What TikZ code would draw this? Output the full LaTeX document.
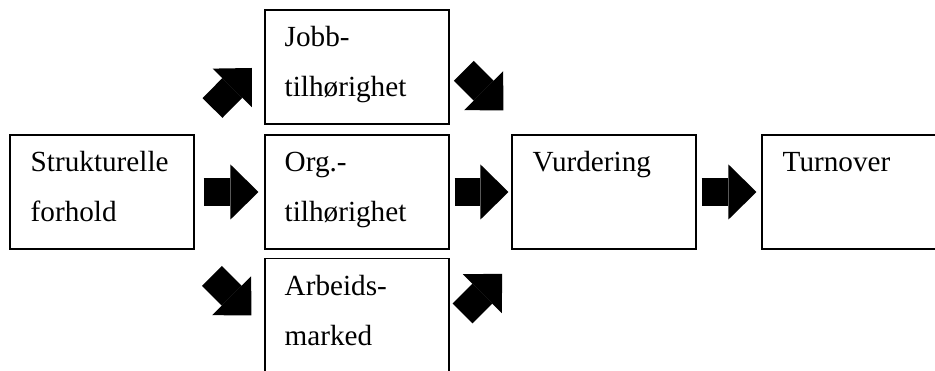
\documentclass[tikz,border=0pt]{standalone}
\usepackage{fontspec}
\setmainfont{Liberation Serif}
\usetikzlibrary{arrows.meta,calc}

\tikzset{
    box/.style={draw, line width=0.8pt, minimum width=138pt, minimum height=85.5pt, inner sep=0pt},
    boxtext/.style={anchor=north west, inner sep=0pt, align=left, font=\fontsize{21.9}{37.5}\selectfont},
    bigarrow/.style={line width=21pt, -{Triangle[length=21pt,width=41.25pt,line width=0pt]}}
}

\begin{document}
\begin{tikzpicture}[x=0.75pt, y=0.75pt]

    \useasboundingbox (0,0) rectangle (935,371);
    \clip (0,0) rectangle (935,371);

    \node [box] (struk) at (102,179) {};
    \node [box] (jobb) at (357,304) {};
    \node [box] (org) at (357,179) {};
    \node [box] (arbeid) at (357,55.5) {};
    \node [box] (vurd) at (604,179) {};
    \node [box] (turn) at (854,179) {};

    \node [boxtext] (strukt) at ($(struk.north west)+(21,-2)$) {\strut Strukturelle\\forhold};
    \node [boxtext] (jobbt) at ($(jobb.north west)+(20,-2)$) {\strut Jobb-\\tilhørighet};
    \node [boxtext] (orgt) at ($(org.north west)+(20,-2)$) {\strut Org.-\\tilhørighet};
    \node [boxtext] (arbeidt) at ($(arbeid.north west)+(20,-2)$) {\strut Arbeids-\\marked};
    \node [boxtext] (vurdt) at ($(vurd.north west)+(21,-2)$) {\strut Vurdering};
    \node [boxtext] (turnt) at ($(turn.north west)+(21,-2)$) {\strut Turnover};

    \draw [bigarrow] ($(struk.east)+(9,0)$) -- ($(org.west)+(-6,0)$);
    \draw [bigarrow] ($(org.east)+(5,0)$) -- ($(vurd.west)+(-3,0)$);
    \draw [bigarrow] ($(vurd.east)+(5,0)$) -- ($(turn.west)+(-5,0)$);

    \draw [bigarrow] ($(jobb.west)+(-52,-41)$) -- ($(jobb.west)+(-12.5,-1)$);
    \draw [bigarrow] ($(arbeid.west)+(-52.6,39.6)$) -- ($(arbeid.west)+(-13,0)$);
    \draw [bigarrow] ($(vurd.north west)+(-47.6,63.6)$) -- ($(vurd.north west)+(-8,24)$);
    \draw [bigarrow] ($(vurd.south west)+(-48.9,-63.9)$) -- ($(vurd.south west)+(-9.3,-24.3)$);

\end{tikzpicture}
\end{document}
